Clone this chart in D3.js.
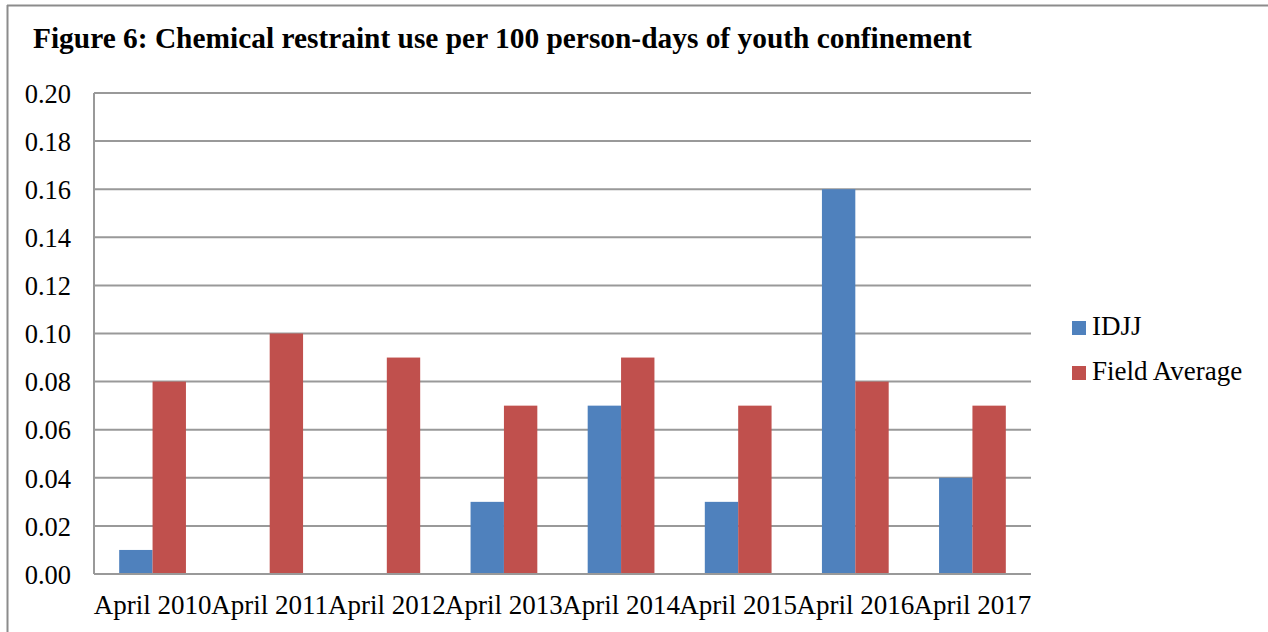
<!DOCTYPE html>
<html>
<head>
<meta charset="utf-8">
<script src="https://cdn.jsdelivr.net/npm/d3@7"></script>
<style>
  html, body { margin: 0; padding: 0; background: #fff; }
  svg { display: block; }
  text { font-family: "Liberation Serif", "Times New Roman", serif; fill: #000; }
</style>
</head>
<body>
<svg id="chart" width="1268" height="632"></svg>
<script>
// Chart data
const categories = ["April 2010", "April 2011", "April 2012", "April 2013",
                    "April 2014", "April 2015", "April 2016", "April 2017"];
const seriesNames = ["IDJJ", "Field Average"];
const idjj = [0.01, 0, 0, 0.03, 0.07, 0.03, 0.16, 0.04];
const fieldAverage = [0.08, 0.10, 0.09, 0.07, 0.09, 0.07, 0.08, 0.07];
const yTicks = [0, 0.02, 0.04, 0.06, 0.08, 0.10, 0.12, 0.14, 0.16, 0.18, 0.20];
const colors = ["#4F81BD", "#C0504D"];
const title = "Figure 6: Chemical restraint use per 100 person-days of youth confinement";

const svg = d3.select("#chart");
const W = 1268, H = 632;
const plot = { left: 94, right: 1031, top: 93, bottom: 574 };

// Outer frame (top and left edges visible)
svg.append("line").attr("x1", 7).attr("x2", W).attr("y1", 5.5).attr("y2", 5.5)
  .attr("stroke", "#8c8c8c").attr("stroke-width", 2);
svg.append("line").attr("x1", 7.5).attr("x2", 7.5).attr("y1", 5).attr("y2", H)
  .attr("stroke", "#8c8c8c").attr("stroke-width", 2);

// Title
svg.append("text").attr("x", 33).attr("y", 48)
  .attr("font-size", 29.4).attr("font-weight", "bold").text(title);

// Scales
const x0 = d3.scaleBand().domain(categories).range([plot.left, plot.right])
  .paddingInner(0.43).paddingOuter(0.215);
const x1 = d3.scaleBand().domain(seriesNames).range([0, x0.bandwidth()]);
const y = d3.scaleLinear().domain([0, 0.20]).range([plot.bottom, plot.top]);

// Horizontal gridlines
svg.append("g").selectAll("line").data(yTicks).join("line")
  .attr("x1", plot.left).attr("x2", plot.right)
  .attr("y1", d => y(d)).attr("y2", d => y(d))
  .attr("stroke", "#999").attr("stroke-width", 2);

// Left axis line
svg.append("line").attr("x1", plot.left).attr("x2", plot.left)
  .attr("y1", plot.top).attr("y2", plot.bottom)
  .attr("stroke", "#999").attr("stroke-width", 2);

// Y tick labels
const yAxis = d3.axisLeft(y).tickValues(yTicks).tickFormat(d3.format(".2f")).tickSize(0).tickPadding(23);
const gy = svg.append("g").attr("transform", `translate(${plot.left},0)`).call(yAxis);
gy.select(".domain").remove();
gy.selectAll("text").attr("font-size", 26.5).attr("font-family", "Liberation Serif").attr("fill", "#000")
  .attr("dy", "0.35em");

// Bars
const rows = categories.map((c, i) => ({ cat: c, vals: [idjj[i], fieldAverage[i]] }));
const groups = svg.append("g").selectAll("g").data(rows).join("g")
  .attr("transform", d => `translate(${x0(d.cat)},0)`);
groups.selectAll("rect").data(d => d.vals.map((v, j) => ({ name: seriesNames[j], v, j })))
  .join("rect")
  .attr("x", d => x1(d.name))
  .attr("width", x1.bandwidth())
  .attr("y", d => y(d.v))
  .attr("height", d => y(0) - y(d.v))
  .attr("fill", d => colors[d.j]);

// Bottom axis line redrawn over bars
svg.append("line").attr("x1", plot.left).attr("x2", plot.right)
  .attr("y1", y(0)).attr("y2", y(0))
  .attr("stroke", "#999").attr("stroke-width", 2);

// X category labels
const xAxis = d3.axisBottom(x0).tickSize(0);
const gx = svg.append("g").attr("transform", `translate(0,${plot.bottom})`).call(xAxis);
gx.select(".domain").remove();
gx.selectAll("text").attr("font-size", 27).attr("font-family", "Liberation Serif").attr("fill", "#000")
  .attr("y", 40).attr("dy", 0);

// Legend
const legend = svg.append("g").selectAll("g").data(seriesNames).join("g")
  .attr("transform", (d, i) => `translate(1072,${321 + i * 45})`);
legend.append("rect").attr("width", 14).attr("height", 14).attr("fill", (d, i) => colors[i]);
legend.append("text").attr("x", 20).attr("y", 14).attr("font-size", 27).text(d => d);
</script>
</body>
</html>
